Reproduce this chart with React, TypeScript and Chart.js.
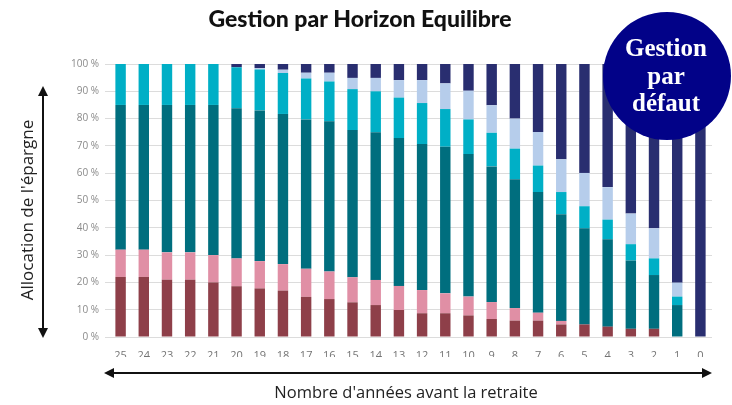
import React, { useEffect, useRef } from "react";
import { Chart, registerables } from "chart.js";

Chart.register(...registerables);

const years = ["25","24","23","22","21","20","19","18","17","16","15","14","13","12","11","10","9","8","7","6","5","4","3","2","1","0"];
const seriesNames = ["Actions Europe", "Actions Monde", "Actions diversifiées", "Obligations", "Obligations court terme", "Monétaire"];
const redVals   = [22,22,21,21,20,18.6,17.8,17,14.7,13.9,12.7,11.7,9.9,8.7,8.7,7.9,6.6,6,6,4.6,4.6,3.8,3,3,0,0];
const pinkVals  = [10,10,10,10,10,10.2,10,9.7,10.3,10.1,9.2,9.2,8.8,8.5,7.3,6.9,6.2,4.6,2.9,1.3,0,0,0,0,0,0];
const tealVals  = [53,53,54,54,55,55,55.2,55,54.7,55,53.9,54.1,54.2,53.5,53.7,52.2,49.7,47.2,44.2,39.1,35.2,32,25,19.7,11.7,0];
const cyanVals  = [15,15,15,15,15,15,15,15,15,14.6,15,15,14.8,15,13.8,12.7,12.3,11.2,9.7,8.1,8.1,7.2,6,6.1,3.1,0];
const lightVals = [0,0,0,0,0,0,0.5,1.2,2.1,3.2,4.1,4.9,6.4,8.4,9.4,10.5,10.1,11,12.3,12,12.2,11.9,11.2,11,5.1,0];
const navyVals  = [0,0,0,0,0,1.2,1.5,2.1,3.2,3.2,5.1,5.1,5.9,5.9,7.1,9.8,15.1,20,24.9,34.9,39.9,45.1,54.8,60.2,80.1,100];
const colors = ["#8E3F49", "#E08FA5", "#006E7E", "#00AFC6", "#B6CDEB", "#292E70"];
const yTicks = [0,10,20,30,40,50,60,70,80,90,100];

const titleText = "Gestion par Horizon Equilibre";
const yLabel = "Allocation de l'épargne";
const xLabel = "Nombre d'années avant la retraite";
const badgeLines = ["Gestion", "par", "défaut"];

function arrowHead(ctx: CanvasRenderingContext2D, x: number, y: number, dx: number, dy: number) {
  const len = 10, half = 5;
  const px = -dy, py = dx;
  ctx.beginPath();
  ctx.moveTo(x, y);
  ctx.lineTo(x - dx * len + px * half, y - dy * len + py * half);
  ctx.lineTo(x - dx * len - px * half, y - dy * len - py * half);
  ctx.closePath();
  ctx.fill();
}

const decorPlugin = {
  id: "decor",
  afterDraw(chart: any) {
    const ctx: CanvasRenderingContext2D = chart.ctx;
    ctx.save();
    // title
    ctx.fillStyle = "#111";
    ctx.font = "900 23px Lato, 'Open Sans', sans-serif";
    ctx.textAlign = "center";
    ctx.textBaseline = "middle";
    ctx.fillText(titleText, 360, 20);

    // vertical arrow
    ctx.strokeStyle = "#111";
    ctx.fillStyle = "#111";
    ctx.lineWidth = 2;
    ctx.beginPath();
    ctx.moveTo(43, 94);
    ctx.lineTo(43, 330);
    ctx.stroke();
    arrowHead(ctx, 43, 86, 0, -1);
    arrowHead(ctx, 43, 338, 0, 1);

    // y label
    ctx.save();
    ctx.translate(28, 210);
    ctx.rotate(-Math.PI / 2);
    ctx.font = "17px 'Open Sans', sans-serif";
    ctx.fillStyle = "#222";
    ctx.fillText(yLabel, 0, 0);
    ctx.restore();

    // horizontal arrow
    ctx.beginPath();
    ctx.moveTo(112, 373);
    ctx.lineTo(704, 373);
    ctx.stroke();
    arrowHead(ctx, 104, 373, -1, 0);
    arrowHead(ctx, 712, 373, 1, 0);

    ctx.font = "16.5px 'Open Sans', sans-serif";
    ctx.fillStyle = "#222";
    ctx.fillText(xLabel, 406, 393);

    // badge
    ctx.fillStyle = "#020288";
    ctx.beginPath();
    ctx.arc(667, 76, 64, 0, Math.PI * 2);
    ctx.fill();
    ctx.fillStyle = "#fff";
    ctx.font = "bold 25px 'Liberation Serif', 'DejaVu Serif', serif";
    ctx.fillText(badgeLines[0], 666, 50);
    ctx.fillText(badgeLines[1], 666, 78);
    ctx.fillText(badgeLines[2], 666, 105);
    ctx.restore();
  },
};

export default function App() {
  const ref = useRef<HTMLCanvasElement>(null);
  useEffect(() => {
    if (!ref.current) return;
    const all = [redVals, pinkVals, tealVals, cyanVals, lightVals, navyVals];
    const chart = new Chart(ref.current, {
      type: "bar",
      data: {
        labels: years,
        datasets: all.map((d, i) => ({
          label: seriesNames[i],
          data: d,
          backgroundColor: colors[i],
          borderWidth: 0,
          barPercentage: 0.45,
          categoryPercentage: 1,
        })),
      },
      options: {
        animation: false,
        responsive: false,
        maintainAspectRatio: false,
        layout: { padding: { left: 69, right: 20, top: 64, bottom: 48 } },
        plugins: { legend: { display: false }, tooltip: { enabled: false }, title: { display: false } },
        scales: {
          x: {
            stacked: true,
            grid: { display: false },
            border: { display: false },
            ticks: { color: "#737373", font: { size: 11, family: "'Open Sans', sans-serif" }, padding: 4, maxRotation: 0, autoSkip: false },
            afterFit: (s: any) => { s.height = 20; },
          },
          y: {
            stacked: true,
            min: 0,
            max: 100,
            afterBuildTicks: (s: any) => { s.ticks = yTicks.map((v) => ({ value: v })); },
            grid: { color: "#dcdcdc", tickLength: 4, lineWidth: 1 },
            border: { display: false },
            ticks: { color: "#8a8a8a", font: { size: 10, family: "'Open Sans', sans-serif" }, padding: 6, callback: (v: any) => v + " %" },
            afterFit: (s: any) => { s.width = 40; },
          },
        },
      },
      plugins: [decorPlugin],
    });
    return () => chart.destroy();
  }, []);
  return (
    <div style={{ position: "absolute", left: 0, top: 0, width: 732, height: 405, background: "#fff" }}>
      <canvas ref={ref} width={732} height={405} style={{ width: 732, height: 405 }} />
    </div>
  );
}
